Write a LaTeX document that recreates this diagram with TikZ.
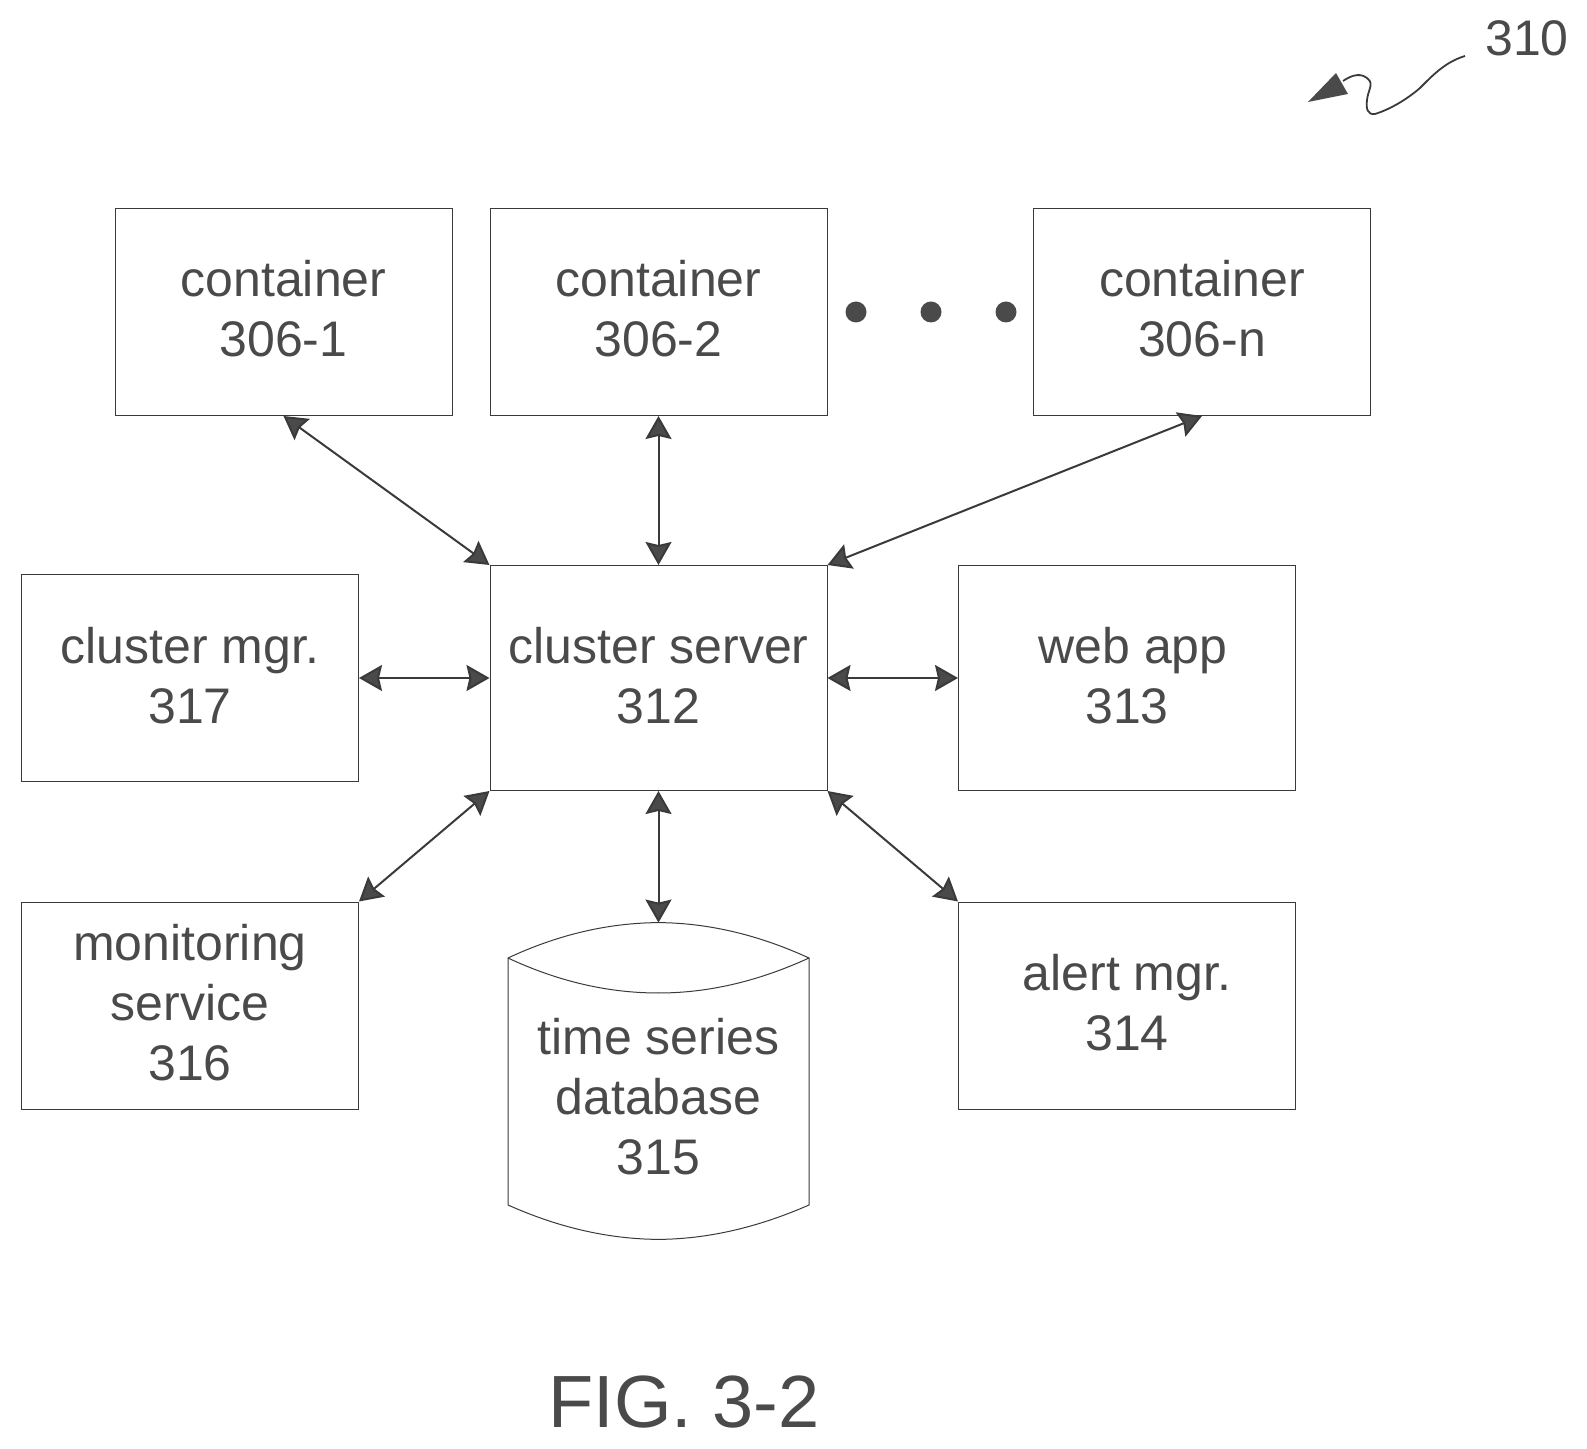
\documentclass[tikz,border=0pt]{standalone}
\usepackage{fontspec}
\setmainfont{Liberation Sans}
\usetikzlibrary{arrows.meta}
\definecolor{ink}{HTML}{4A4A4A}
\definecolor{edge}{HTML}{3A3A3A}
\newcommand{\boxlines}[2]{\smash{\raisebox{#1}{\vbox{\baselineskip=30pt\lineskip=0pt\lineskiplimit=-100pt\halign{\hfil##\hfil\cr #2\cr}}}}}
\tikzset{
  box/.style={draw=edge,line width=0.5pt,rectangle,inner sep=0pt,text=ink,font=\fontsize{25}{30}\selectfont,minimum width=168.5pt},
  tall/.style={box,minimum height=103.5pt},
  mid/.style={box,minimum height=112.5pt},
  link/.style={draw=edge,line width=1pt,{Stealth[length=11.5pt,width=13pt,inset=1.5pt,fill=ink]}-{Stealth[length=11.5pt,width=13pt,inset=1.5pt,fill=ink]},shorten >=0pt,shorten <=0pt},
  dotmark/.style={circle,fill=ink,draw=none,minimum size=10.5pt,inner sep=0pt},
  caption/.style={text=ink,inner sep=0pt,anchor=base}
}
\begin{document}
\begin{tikzpicture}[x=0.5pt,y=-0.5pt]
\useasboundingbox (0,0) rectangle (1587,1449);
% boxes
\node[tall] (c1) at (283.5,312) {\boxlines{-22.5pt}{container\cr 306-1}};
\node[tall] (c2) at (658.5,312) {\boxlines{-22.5pt}{container\cr 306-2}};
\node[tall] (cn) at (1202,312) {\boxlines{-22.5pt}{container\cr 306-n}};
\node[dotmark] (d1) at (856,312) {};
\node[dotmark] (d2) at (931,312) {};
\node[dotmark] (d3) at (1006,312) {};
\node[tall] (mgr) at (190,678) {\boxlines{-22.75pt}{cluster mgr.\cr 317}};
\node[mid] (srv) at (658.5,678) {\boxlines{-22.75pt}{cluster server\cr 312}};
\node[mid] (web) at (1127,678) {\boxlines{-22.75pt}{\hspace*{6pt}web app\cr 313}};
\node[tall] (mon) at (190,1005.5) {\boxlines{-37.5pt}{monitoring\cr service\cr 316}};
\node[tall] (alert) at (1127,1005.5) {\boxlines{-22.5pt}{alert mgr.\cr 314}};
% database
\node[rectangle,inner sep=0pt,minimum width=150pt,minimum height=158pt,text=ink,font=\fontsize{25}{30}\selectfont] (db) at (658.5,1081) {\boxlines{-46.5pt}{time series\cr database\cr 315}};
\draw[edge,line width=0.5pt] (508,958) .. controls (555,936) and (605,923) .. (db.north) .. controls (711,923) and (761,936) .. (809,958) -- (809,1205) .. controls (761,1226) and (711,1239) .. (db.south) .. controls (605,1239) and (555,1226) .. (508,1205) -- cycle;
\draw[edge,line width=0.5pt] (508,958) .. controls (555,980) and (605,993) .. (658.5,993) .. controls (711,993) and (761,980) .. (809,958);
% connectors
\draw[link] (c1.south) -- (srv.north west);
\draw[link] (c2.south) -- (srv.north);
\draw[link] (cn.south) -- (srv.north east);
\draw[link] (mgr.east) -- (srv.west);
\draw[link] (srv.east) -- (web.west);
\draw[link] (srv.south west) -- (mon.north east);
\draw[link] (srv.south) -- (db.north);
\draw[link] (srv.south east) -- (alert.north west);
% reference numeral
\node[caption,font=\fontsize{25}{30}\selectfont] (ref) at (1527,56) {310};
\coordinate (sqa) at (1465,56);
\coordinate (sqb) at (1343,81);
\draw[edge,line width=0.9pt] (sqa) .. controls (1445,62) and (1432,76) .. (1420,88) .. controls (1405,101) and (1388,110) .. (1375,114) .. controls (1367,115) and (1366,108) .. (1367,100) .. controls (1368,90) and (1374,84) .. (1368,79) .. controls (1362,73) and (1353,74) .. (sqb);
\fill[ink] (1308,102) -- (1336,73) -- (1348,94) -- cycle;
% figure label
\node[caption,font=\fontsize{37}{44}\selectfont] (fig) at (684,1427) {FIG. 3-2};
\end{tikzpicture}
\end{document}
